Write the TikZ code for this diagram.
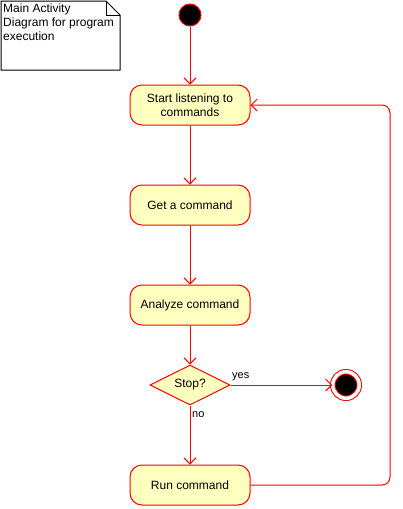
\documentclass[tikz,border=0pt]{standalone}
\usepackage{fontspec}
\setmainfont{Liberation Sans}
\usetikzlibrary{arrows.meta,shapes.geometric}
\definecolor{actfill}{RGB}{255,255,192}
\tikzset{
  txt/.style={font=\fontsize{12}{14}\selectfont},
  act/.style={txt,draw=red,fill=actfill,line width=1pt,rounded corners=12pt,
    minimum width=120pt,minimum height=40pt,align=center,inner sep=0pt},
  choice/.style={txt,diamond,draw=red,fill=actfill,line width=1pt,aspect=2,
    minimum width=80pt,minimum height=40pt,inner sep=0pt},
  flow/.style={draw=red,line width=1pt,-{Straight Barb[length=6pt,width=12pt]}},
  initial/.style={circle,draw=red,fill=black,line width=1pt,minimum size=22pt,inner sep=0pt},
  final/.style={circle,draw=red,fill=black,line width=1pt,minimum size=26.5pt,inner sep=0pt,
    double=white,double distance=3.5pt}
}
\begin{document}
\begin{tikzpicture}[x=1pt,y=-1pt]
\useasboundingbox (0,0) rectangle (402,509);
\draw[line width=1pt] (1,1)--(106,1)--(120,15)--(120,70)--(1,70)--cycle;
\draw[line width=1pt] (106,1)--(106,15)--(120,15);
\node[txt,anchor=north west,align=left,inner sep=0pt] (note) at (3,4) {Main Activity\\Diagram for program\\execution};
\node[initial] (start) at (190,15) {};
\node[act] (listen) at (190,105) {Start listening to\\commands};
\node[act] (get) at (190,205) {Get a command};
\node[act] (analyze) at (190,305) {Analyze command};
\node[choice] (stop) at (190,385) {Stop?};
\node[final] (end) at (346,385) {};
\node[act] (run) at (190,485) {Run command};
\draw[flow] (start)--(listen);
\draw[flow] (listen)--(get);
\draw[flow] (get)--(analyze);
\draw[flow] (analyze)--(stop);
\draw[flow] (stop)--(end);
\draw[flow] (stop)--(run);
\draw[flow,rounded corners=8pt] (run.east)--(390,485)--(390,105)--(listen.east);
\node[font=\fontsize{11}{13}\selectfont,anchor=south west,inner sep=0pt] (yes) at (232,381) {yes};
\node[font=\fontsize{11}{13}\selectfont,anchor=north west,inner sep=0pt] (no) at (192,411) {no};
\end{tikzpicture}
\end{document}
